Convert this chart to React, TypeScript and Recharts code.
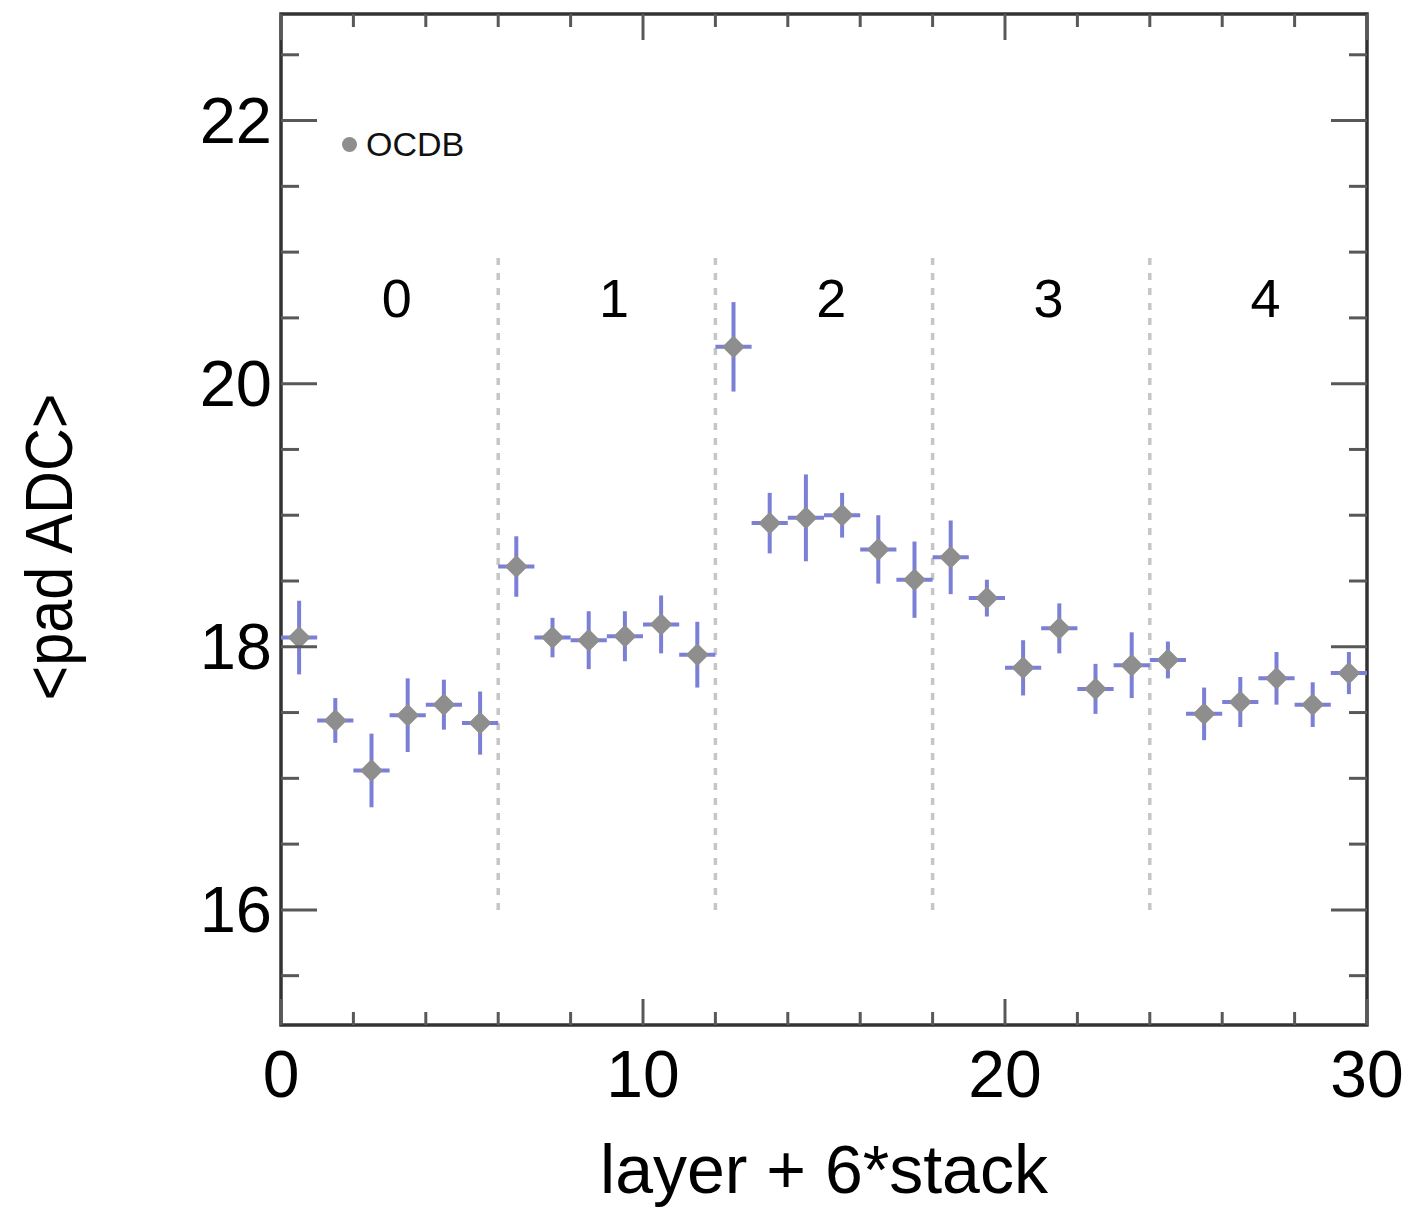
import React from 'react';
import {
  ScatterChart,
  Scatter,
  XAxis,
  YAxis,
  ErrorBar,
  ReferenceLine,
  ReferenceArea,
  Legend,
} from 'recharts';

// bin centres of layer + 6*stack
const LAYER_BINS = [
  0.5, 1.5, 2.5, 3.5, 4.5, 5.5, 6.5, 7.5, 8.5, 9.5,
  10.5, 11.5, 12.5, 13.5, 14.5, 15.5, 16.5, 17.5, 18.5, 19.5,
  20.5, 21.5, 22.5, 23.5, 24.5, 25.5, 26.5, 27.5, 28.5, 29.5,
];
const PAD_ADC = [
  18.07, 17.44, 17.06, 17.48, 17.56, 17.42, 18.61, 18.07, 18.05, 18.08,
  18.17, 17.94, 20.28, 18.94, 18.98, 19.0, 18.74, 18.51, 18.68, 18.37,
  17.84, 18.14, 17.68, 17.86, 17.9, 17.49, 17.58, 17.76, 17.56, 17.8,
];
const PAD_ADC_ERR = [
  0.28, 0.17, 0.28, 0.28, 0.19, 0.24, 0.23, 0.15, 0.22, 0.19,
  0.22, 0.25, 0.34, 0.23, 0.33, 0.17, 0.26, 0.29, 0.28, 0.14,
  0.21, 0.19, 0.19, 0.25, 0.14, 0.2, 0.19, 0.2, 0.17, 0.16,
];
const BIN_HALF_WIDTH = 0.5;

const STACK_BOUNDARIES = [6, 12, 18, 24];
const STACK_LINE_RANGE = [16, 21];
const STACK_NAMES = ['0', '1', '2', '3', '4'];
const STACK_LABEL_X = [3.2, 9.2, 15.2, 21.2, 27.2];
const STACK_LABEL_Y = 20.65;

const X_DOMAIN = [0, 30];
const X_TICKS = [0, 2, 4, 6, 8, 10, 12, 14, 16, 18, 20, 22, 24, 26, 28, 30];
const X_LABELED = [0, 10, 20, 30];
const Y_DOMAIN = [15.125, 22.81];
const Y_TICKS = [15.5, 16, 16.5, 17, 17.5, 18, 18.5, 19, 19.5, 20, 20.5, 21, 21.5, 22, 22.5];
const Y_LABELED = [16, 18, 20, 22];

const points = LAYER_BINS.map((x, i) => ({
  x,
  y: PAD_ADC[i],
  ex: BIN_HALF_WIDTH,
  ey: PAD_ADC_ERR[i],
}));
const stackLabels = STACK_LABEL_X.map((x, i) => ({ x, y: STACK_LABEL_Y, name: STACK_NAMES[i] }));

const FONT = '"Liberation Sans", Arial, Helvetica, sans-serif';
const PLOT = { left: 281, right: 1367, top: 14, bottom: 1025 };
const TICK_COLOR = '#585858';
const FRAME_COLOR = '#333';
const ERR_COLOR = '#7b7fd6';
const MARKER_COLOR = '#8e8e8e';

function YTick(props: any) {
  const { y, payload } = props;
  const major = Y_LABELED.includes(payload.value);
  const len = major ? 36 : 18;
  return (
    <g>
      <line x1={PLOT.left} x2={PLOT.left + len} y1={y} y2={y} stroke={TICK_COLOR} strokeWidth={3} />
      <line x1={PLOT.right - len} x2={PLOT.right} y1={y} y2={y} stroke={TICK_COLOR} strokeWidth={3} />
      {major && (
        <text
          x={PLOT.left - 9}
          y={y}
          textAnchor="end"
          dominantBaseline="central"
          fontSize={65}
          fontFamily={FONT}
          fill="#000"
        >
          {payload.value}
        </text>
      )}
    </g>
  );
}

function XTick(props: any) {
  const { x, payload } = props;
  const major = X_LABELED.includes(payload.value);
  const len = major ? 26 : 13;
  return (
    <g>
      <line x1={x} x2={x} y1={PLOT.bottom} y2={PLOT.bottom - len} stroke={TICK_COLOR} strokeWidth={3} />
      <line x1={x} x2={x} y1={PLOT.top} y2={PLOT.top + len} stroke={TICK_COLOR} strokeWidth={3} />
      {major && (
        <text x={x} y={1097} textAnchor="middle" fontSize={66} fontFamily={FONT} fill="#000">
          {payload.value}
        </text>
      )}
    </g>
  );
}

function Diamond(props: any) {
  const { cx, cy } = props;
  const r = 10;
  return (
    <polygon
      points={`${cx},${cy - r} ${cx + r},${cy} ${cx},${cy + r} ${cx - r},${cy}`}
      fill={MARKER_COLOR}
      stroke={MARKER_COLOR}
      strokeWidth={2}
      strokeLinejoin="round"
    />
  );
}

function StackLabel(props: any) {
  const { cx, cy, payload } = props;
  return (
    <text x={cx} y={cy} textAnchor="middle" dominantBaseline="central" fontSize={54} fontFamily={FONT} fill="#000">
      {payload.name}
    </text>
  );
}

function LegendBox() {
  return (
    <div style={{ display: 'flex', alignItems: 'center', fontFamily: FONT, fontSize: 34, color: '#111' }}>
      <span
        style={{
          display: 'inline-block',
          width: 15,
          height: 15,
          borderRadius: 8,
          background: MARKER_COLOR,
          marginRight: 9,
        }}
      />
      OCDB
    </div>
  );
}

export default function App() {
  return (
    <div style={{ position: 'absolute', left: 0, top: 0, background: '#fff' }}>
      <ScatterChart width={1409} height={1210} margin={{ top: 14, right: 42, bottom: 0, left: 0 }}>
        <XAxis
          type="number"
          dataKey="x"
          domain={X_DOMAIN}
          ticks={X_TICKS}
          interval={0}
          allowDataOverflow
          tick={<XTick />}
          tickLine={false}
          axisLine={false}
          height={185}
          label={{
            value: 'layer + 6*stack',
            position: 'insideBottom',
            offset: 17,
            fontSize: 68,
            fontFamily: FONT,
            fill: '#000',
          }}
        />
        <YAxis
          type="number"
          dataKey="y"
          domain={Y_DOMAIN}
          ticks={Y_TICKS}
          interval={0}
          allowDataOverflow
          tick={<YTick />}
          tickLine={false}
          axisLine={false}
          width={281}
          label={{
            content: () => (
              <text
                x={72}
                y={547}
                transform="rotate(-90 72 547)"
                textAnchor="middle"
                fontSize={66}
                fontFamily={FONT}
                textLength={307}
                lengthAdjust="spacingAndGlyphs"
                fill="#000"
              >
                {'<pad ADC>'}
              </text>
            ),
          }}
        />
        <ReferenceArea
          x1={X_DOMAIN[0]}
          x2={X_DOMAIN[1]}
          y1={Y_DOMAIN[0]}
          y2={Y_DOMAIN[1]}
          fill="none"
          stroke={FRAME_COLOR}
          strokeWidth={3.5}
          ifOverflow="visible"
        />
        {STACK_BOUNDARIES.map((b) => (
          <ReferenceLine
            key={b}
            segment={[
              { x: b, y: STACK_LINE_RANGE[0] },
              { x: b, y: STACK_LINE_RANGE[1] },
            ]}
            stroke="#c6c6c6"
            strokeWidth={3.5}
            strokeDasharray="7 8"
          />
        ))}
        <Scatter data={stackLabels} shape={<StackLabel />} isAnimationActive={false} legendType="none" />
        <Scatter name="OCDB" data={points} shape={<Diamond />} isAnimationActive={false}>
          <ErrorBar dataKey="ex" direction="x" width={0} stroke={ERR_COLOR} strokeWidth={4} />
          <ErrorBar dataKey="ey" direction="y" width={0} stroke={ERR_COLOR} strokeWidth={4} />
        </Scatter>
        <Legend
          layout="horizontal"
          verticalAlign="middle"
          align="center"
          content={() => <LegendBox />}
          wrapperStyle={{ position: 'absolute', left: 342, top: 125, width: 'auto', height: 'auto' }}
        />
      </ScatterChart>
    </div>
  );
}
